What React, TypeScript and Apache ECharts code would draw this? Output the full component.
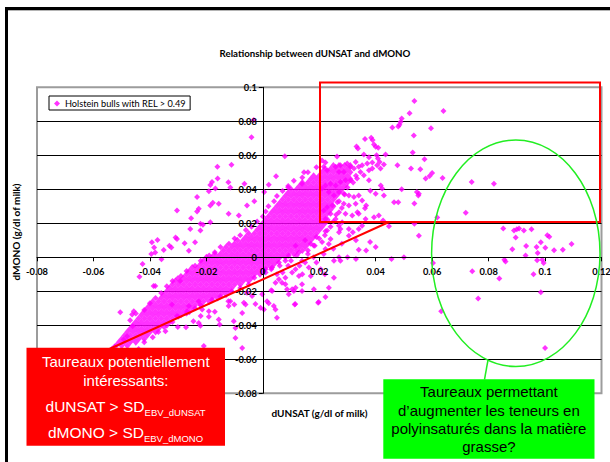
import { useEffect, useRef } from "react";
import * as echarts from "echarts";

// ---- data (values in thousandths of g/dl) ----
const SERIES_NAME = "Holstein bulls with REL > 0.49";
const TITLE = "Relationship between dUNSAT and dMONO";
const X_NAME = "dUNSAT (g/dl of milk)";
const Y_NAME = "dMONO (g/dl of milk)";
const X_MIN = -0.08;
const X_MAX = 0.12;
const Y_MIN = -0.08;
const Y_MAX = 0.1;
const TICK_STEP = 0.02;

// dense core of the cloud, read row by row: [dMONO, dUNSAT values]
const coreRows: [number, number[]][] = [
  [-52, [-52, -50, -48]],
  [-50, [-51, -49, -47, -45]],
  [-48, [-50, -48, -46, -44, -42]],
  [-46, [-49, -47, -45, -43, -41]],
  [-44, [-48, -46, -44, -42, -40, -38]],
  [-42, [-47, -45, -43, -41, -39, -37]],
  [-40, [-46, -44, -42, -40, -38, -36, -34]],
  [-38, [-45, -43, -41, -39, -37, -35, -33]],
  [-36, [-44, -42, -40, -38, -36, -34, -32]],
  [-34, [-43, -41, -39, -37, -35, -33, -31, -29]],
  [-32, [-42, -40, -38, -36, -34, -32, -30, -28, -26]],
  [-30, [-41, -39, -37, -35, -33, -31, -29, -27, -25]],
  [-28, [-40, -38, -36, -34, -32, -30, -28, -26, -24, -22]],
  [-26, [-39, -37, -35, -33, -31, -29, -27, -25, -23, -21, -19]],
  [-24, [-36, -34, -32, -30, -28, -26, -24, -22, -20, -18, -16]],
  [-22, [-35, -33, -31, -29, -27, -25, -23, -21, -19, -17, -15, -13]],
  [-20, [-34, -32, -30, -28, -26, -24, -22, -20, -18, -16, -14, -12]],
  [-18, [-33, -31, -29, -27, -25, -23, -21, -19, -17, -15, -13, -11]],
  [-16, [-32, -30, -28, -26, -24, -22, -20, -18, -16, -14, -12, -10, -8]],
  [-14, [-31, -29, -27, -25, -23, -21, -19, -17, -15, -13, -11, -9, -7, -5]],
  [-12, [-28, -26, -24, -22, -20, -18, -16, -14, -12, -10, -8, -6, -4]],
  [-10, [-27, -25, -23, -21, -19, -17, -15, -13, -11, -9, -7, -5, -3, -1]],
  [-8, [-26, -24, -22, -20, -18, -16, -14, -12, -10, -8, -6, -4, -2, 0]],
  [-6, [-25, -23, -21, -19, -17, -15, -13, -11, -9, -7, -5, -3, -1, 1, 3]],
  [-4, [-22, -20, -18, -16, -14, -12, -10, -8, -6, -4, -2, 0, 2, 4]],
  [-2, [-21, -19, -17, -15, -13, -11, -9, -7, -5, -3, -1, 1, 3, 5]],
  [0, [-20, -18, -16, -14, -12, -10, -8, -6, -4, -2, 0, 2, 4, 6, 8]],
  [2, [-17, -15, -13, -11, -9, -7, -5, -3, -1, 1, 3, 5, 7, 9, 11]],
  [4, [-14, -12, -10, -8, -6, -4, -2, 0, 2, 4, 6, 8, 10, 12, 14]],
  [6, [-13, -11, -9, -7, -5, -3, -1, 1, 3, 5, 7, 9, 11, 13, 15]],
  [8, [-10, -8, -6, -4, -2, 0, 2, 4, 6, 8, 10, 12, 14, 16]],
  [10, [-9, -7, -5, -3, -1, 1, 3, 5, 7, 9, 11, 13, 15, 17]],
  [12, [-6, -4, -2, 0, 2, 4, 6, 8, 10, 12, 14, 16, 18]],
  [14, [-5, -3, -1, 1, 3, 5, 7, 9, 11, 13, 15, 17, 19]],
  [16, [-2, 0, 2, 4, 6, 8, 10, 12, 14, 16, 18, 20]],
  [18, [-1, 1, 3, 5, 7, 9, 11, 13, 15, 17, 19, 21]],
  [20, [0, 2, 4, 6, 8, 10, 12, 14, 16, 18, 20, 22]],
  [22, [1, 3, 5, 7, 9, 11, 13, 15, 17, 19, 21, 23]],
  [24, [2, 4, 6, 8, 10, 12, 14, 16, 18, 20, 22]],
  [26, [3, 5, 7, 9, 11, 13, 15, 17, 19, 21, 23]],
  [28, [4, 6, 8, 10, 12, 14, 16, 18, 20, 22, 24]],
  [30, [5, 7, 9, 11, 13, 15, 17, 19, 21, 23, 25]],
  [32, [6, 8, 10, 12, 14, 16, 18, 20, 22, 24]],
  [34, [7, 9, 11, 13, 15, 17, 19, 21, 23, 25]],
  [36, [8, 10, 12, 14, 16, 18, 20, 22, 24, 26]],
  [38, [9, 11, 13, 15, 17, 19, 21, 23, 25, 27]],
  [40, [10, 12, 14, 16, 18, 20, 22, 24, 26, 28]],
  [42, [13, 15, 17, 19, 21, 23, 25, 27, 29]],
  [44, [14, 16, 18, 20, 22, 24, 26, 28, 30]],
  [46, [17, 19, 21, 23, 25, 27, 29, 31]],
  [48, [18, 20, 22, 24, 26, 28, 30]],
  [50, [21, 23, 25, 27, 29, 31]],
  [52, [22, 24, 26, 28, 30]],
  [54, [25, 27, 29, 31]],
];

// ragged edges of the core: [dUNSAT, dMONO]
const coreEdgePoints: [number, number][] = [
  [-47, -37], [-45, -33], [-42, -31], [-40, -27], [-38, -24], [-36, -21], [-34, -17], [-32, -14], [-29, -11],
  [-27, -8], [-24, -5], [-22, -2], [-19, 1], [-17, 3], [-15, 6], [-12, 8], [-10, 11], [-8, 13], [-6, 16],
  [-4, 18], [-2, 21], [0, 24], [1, 27], [2, 30], [4, 33], [5, 36], [7, 39], [9, 42], [11, 45], [14, 47],
  [16, 50], [19, 53], [21, 57],
  [-44, -54], [-42, -50], [-39, -47], [-37, -44], [-35, -41], [-32, -38], [-30, -35], [-27, -33], [-24, -30],
  [-22, -28], [-18, -25], [-15, -23], [-11, -20], [-8, -18], [-5, -16], [-3, -12], [1, -9], [3, -7], [6, -5],
  [10, -2], [12, 1], [16, 4], [18, 7], [20, 11], [22, 13], [24, 18], [25, 21], [26, 25], [28, 29], [27, 33],
  [29, 37], [30, 41], [32, 44], [33, 48],
];

// individually visible bulls: [dUNSAT, dMONO]
const scatterPoints: [number, number][] = [
  [53.7, 91.9], [52, 84.8], [49.2, 81.7], [48.8, 79.6], [48.4, 78], [48, 77], [45.9, 76.3], [59.6, 75.9], [64, 86.1],
  [53.5, 71.7], [36.2, 69.6], [38.4, 70.3], [38.9, 69], [39.4, 66.4], [40, 65], [40.9, 64.4], [33.2, 65.2], [33.7, 64],
  [53.1, 61.7], [43.5, 60.5], [40.3, 60], [40.8, 58.1], [41.4, 56.1], [35.8, 60.5], [37.6, 58.9], [38.8, 55.8],
  [42.9, 54.6], [57.3, 57.7], [47.7, 54.2], [52.5, 52.2], [55.8, 51.8], [60, 49.6], [59.1, 47.8], [57.7, 46.3],
  [63.7, 46.7], [74, 44.3], [81.9, 43.3], [55.3, 37.4], [71.9, 26.2], [61.8, 23.4], [55.3, 12.7], [26.3, 59.3],
  [49.2, 40], [54.6, 38.4], [55.1, 36.4], [41.8, 42.3], [42.3, 40.4], [42.9, 36.4], [46.5, 32.4], [48, 32.4],
  [53.7, 31.7], [40, 37.4], [38.1, 39.2], [36.6, 30.5], [36.2, 28.9], [33.5, 26.5], [42.6, 21.6], [53.7, 19.8],
  [44.7, 18.2], [27, 18.6], [30.5, 16.7], [22.2, 15.3], [31.9, 14.7],
  [22.2, 55.8], [21.6, 53.2], [22.8, 51.2], [25.8, 53.2], [27.5, 54.2], [27, 50.2], [28.7, 50.2], [29.9, 55.2],
  [31.1, 53.2], [32.3, 52.2], [32.9, 56.1], [34, 53.2], [35.2, 54.2], [37, 55.2], [37.6, 51.2], [38.8, 52.2],
  [40.5, 54.2], [41.7, 52.2], [34.6, 50.2], [35.8, 48.2], [37.6, 45.3], [33.4, 46.3], [31.1, 45.3], [29.3, 45.3],
  [27.5, 44.3], [25.8, 42.3], [24, 43.3], [22.2, 42.3], [21, 40.4], [23.4, 38.4], [25.2, 36.4], [27, 38.4],
  [28.7, 37.4], [30.5, 36.4], [32.3, 35.4], [34, 36.4], [35.2, 33.4], [32.9, 31.5], [30.5, 30.5], [28.7, 31.5],
  [26.4, 32.4], [24.6, 30.5], [22.8, 29.5], [21.6, 27.5], [24, 25.6], [27, 26.5], [29.3, 25.6], [31.7, 24.6],
  [34, 25.6], [36.4, 22.6], [39.4, 23.6], [41.1, 24.6], [25.8, 22.6], [22.2, 22.6], [28.1, 20.6], [35.2, 18.6],
  [7.8, 59.5], [4.7, 47.7], [2.1, 42.7], [0.5, 38.4], [14.6, 50], [9, 41], [-3.2, 80.8], [-4, 70.6], [13.9, 43.3],
  [-11.1, 54.4], [-16.1, 53.2], [-16, 46.3], [-18, 44.3], [-18.6, 42.5], [-19.1, 38.8], [-16.8, 40.4], [-12.2, 44.1],
  [-6.5, 43.3], [-23.3, 35.4], [-15.6, 31.5], [-12.1, 25.6], [-8.5, 24.6], [-30.4, 27.5], [-22.7, 28.5], [-23.3, 26.9],
  [-25.4, 23], [-22.1, 19.7], [-21.2, 19.2], [-18.6, 20.6], [-25.7, 16.7], [-22.1, 15.7], [-30.9, 11.7], [-30.4, 10.8],
  [-27.7, 8.2], [-24, 8.8], [-33.1, 6.8], [-32.4, 5.8], [-39.3, 8.8], [-39.5, 1.9], [-38.1, 2.8], [-35.1, 4.3],
  [-35.9, -1.1], [-42.6, -4], [-38.7, -16.9], [-30.1, -12.3], [-29.3, -13.9], [-26.2, 3.8], [-18.6, 30.5],
  [-17.7, 32.1], [-11.5, 41], [-5.6, 30.5], [-3, 33], [-43.7, -11.5], [-37.3, 10.2], [-38.5, 5.8],
  [45.6, -1], [50, 0], [36.6, 4], [34, 4.4], [30, 0], [27, 0], [27.5, -2], [23.4, 7.8], [24, 10.8], [22.8, 15.7],
  [27, 14.7], [27.5, 16.7], [30.5, 12.7], [34, 16.7], [18.4, 6.8], [25.2, -12], [23.4, -17.9], [18.1, -18.8],
  [22.2, -23.4], [19.6, -26.7], [13.9, -15.9], [11, -19.8], [10.4, -18.8], [11.3, -27.7], [8.6, -18.8], [12.8, -11],
  [16.3, -6], [5.7, -12.9], [6.8, -14.9], [3, -19.4], [-0.2, -21.8], [1.5, -25.8], [2.1, -27.1], [3.9, -28.7],
  [4.5, -30.7], [5, -35.6], [0.4, -30.7], [10.4, -9], [11.6, -7], [13.9, -2], [20.5, -7], [22.2, 4.9], [21.6, 1.9],
  [25.2, -2], [11.6, 6.8], [12.8, 2.8], [9.2, 0.9], [8, -2], [5.7, -3], [3.3, -6], [1, -7], [4.5, -14.9], [8, -15.9],
  [11.6, -17.9], [13.9, -19.8], [9.2, -21.8], [3.3, -19.8], [15, 10], [17, 8], [19, 12], [16, 2], [18, 0],
  [19, -3], [15, -3], [13, -5], [9, -5], [7, -9], [5, -10], [8, -12], [14, -10], [17, -11], [21, 9], [25, 5],
  [28, 8], [33, 10], [38, 9], [40, 6], [33, -1], [22, -10],
  [-50.5, -32.3], [-45.7, -31.7], [-46.3, -33.6], [-34.5, -43.5], [-38.1, -16.9], [-32.2, -27.7], [-30.1, -41],
  [-27.2, -41.2], [-22.7, -38.6], [-22.1, -40.2], [-19.1, -35], [-17, -32.1], [-15.6, -36.6], [-15.3, -39.6],
  [-12.1, -28.7], [-11.5, -25.8], [-10.3, -37.6], [-9.7, -41.6], [-7.3, -32.7], [-6.1, -27.7], [-7.3, -53.4],
  [-9.7, -47.5], [-3.8, -22.8], [-5.6, -20.8], [-0.8, -29.7], [-22.7, -25.8], [-21.5, -30.7], [-26.8, -31.7],
  [-26.2, -28.7], [-30.4, -34.6], [-49.3, -48.4], [-48.1, -46.5], [-53.4, -53.8], [-52.5, -52.4], [-46.1, -40.6],
  [-12.2, -25.8], [-10.1, -27.7], [-6.7, -26.8], [-2.6, -27.4], [11.5, -27.4], [19.8, -26.3], [-22, -34.6],
  [-24.6, -37.6], [-19.1, -31.7], [-20.9, -52.2],
  [85.2, 16.9], [89, 15.7], [90, 16.5], [90.8, 16.9], [92.5, 15.7], [95.2, 16.5], [89.6, 11.7], [100.8, 12.9],
  [101.5, 12.1], [98.5, 8.8], [88.4, 4.8], [93.3, 6.6], [97, 6], [100.1, 5.6], [103.2, 4.2], [106.3, 4.4],
  [109.4, 7.8], [97.4, 2.6], [93.1, 1], [85.6, -1.5], [86, -2.5], [97.2, -1.7], [99, -1.5], [99.5, -3.3],
  [60.3, -3.3], [74.2, -8.2], [83.8, -12.5], [95.9, -10], [98.5, -20.6], [76.3, -24.2], [63.2, -31.7], [100, -53.4],
];

const redBoxLines = ["Taureaux potentiellement", "intéressants:"];
const redBoxCriteria: [string, string][] = [
  ["dUNSAT > SD", "EBV_dUNSAT"],
  ["dMONO > SD", "EBV_dMONO"],
];
const greenBoxLines = [
  "Taureaux permettant",
  "d’augmenter les teneurs en",
  "polyinsaturés dans la matière",
  "grasse?",
];

const MAGENTA = "#ff00ff";
const LABEL_FONT = "Lato, 'Open Sans', sans-serif";
const BOX_FONT = "'Liberation Sans', Arial, sans-serif";

// layout (pixels)
const GRID = { left: 37, top: 87.3, right: 8.5, bottom: 68.7 };
const W = 610;
const H = 462;

const fmt = (v: number) => String(parseFloat(v.toFixed(2)));

function txt(x: number, y: number, text: string, o: any = {}) {
  const align = o.align || "center";
  const vAlign = o.vAlign || "middle";
  return {
    type: "text",
    x,
    y,
    rotation: o.rotation || 0,
    z: 120,
    style: {
      text,
      fill: o.color || "#000",
      fontSize: o.size || 8.5,
      fontWeight: o.weight || "normal",
      fontFamily: o.family || LABEL_FONT,
      align,
      verticalAlign: vAlign,
      textAlign: align,
      textVerticalAlign: vAlign,
      rich: o.rich,
    },
  };
}

function buildOption() {
  const coreData: number[][] = [];
  coreRows.forEach(([y, xs]) => xs.forEach((x) => coreData.push([x / 1000, y / 1000])));
  const scatterData = scatterPoints
    .concat(coreEdgePoints)
    .map(([x, y]) => [x / 1000, y / 1000]);

  // pixel position of the zero lines, so the axes sit on them (as in the reference)
  const plotW = W - GRID.left - GRID.right;
  const plotH = H - GRID.top - GRID.bottom;
  const zeroX = GRID.left + ((0 - X_MIN) / (X_MAX - X_MIN)) * plotW;
  const zeroY = GRID.top + ((Y_MAX - 0) / (Y_MAX - Y_MIN)) * plotH;
  const xAxisOffset = -(H - GRID.bottom - zeroY);
  const yAxisOffset = -(zeroX - GRID.left);

  const graphic: any[] = [
    // outer frame
    { type: "rect", z: 120, shape: { x: 5, y: 7, width: 605, height: 3 }, style: { fill: "#000" } },
    { type: "rect", z: 120, shape: { x: 8, y: 10, width: 602, height: 1 }, style: { fill: "#b4b4b4" } },
    { type: "rect", z: 120, shape: { x: 5, y: 7, width: 3, height: 455 }, style: { fill: "#000" } },
    txt(315, 53, TITLE, { weight: "bold", size: 9.7 }),
    txt(319.5, 413, X_NAME, { weight: "bold", size: 10 }),
    txt(16, 232, Y_NAME, { weight: "bold", size: 10, rotation: Math.PI / 2 }),
    // red zone
    {
      type: "rect", z: 110,
      shape: { x: 320, y: 82.5, width: 280, height: 139.5 },
      style: { fill: "none", stroke: "#ff0000", lineWidth: 2 },
    },
    {
      type: "line", z: 110,
      shape: { x1: 389, y1: 222, x2: 105, y2: 351 },
      style: { stroke: "#ff0000", lineWidth: 2 },
    },
    // green zone
    {
      type: "ellipse", z: 110,
      shape: { cx: 515.8, cy: 253.3, rx: 84.2, ry: 113.3 },
      style: { fill: "none", stroke: "#22ee22", lineWidth: 1.5 },
    },
    {
      type: "line", z: 110,
      shape: { x1: 488, y1: 360, x2: 484.5, y2: 379.5 },
      style: { stroke: "#22ee22", lineWidth: 1.5 },
    },
    {
      type: "rect", z: 115,
      shape: { x: 26.5, y: 347.7, width: 198.5, height: 98 },
      style: { fill: "#ff0000" },
    },
    {
      type: "rect", z: 115,
      shape: { x: 383.3, y: 379.3, width: 211.2, height: 79.4 },
      style: { fill: "#00ff00" },
    },
  ];

  const redLineY = [361, 380];
  redBoxLines.forEach((t, i) =>
    graphic.push(txt(125.8, redLineY[i], t, { color: "#fff", size: 15, family: BOX_FONT }))
  );
  const critY = [406.5, 432.8];
  redBoxCriteria.forEach(([main, sub], i) => {
    graphic.push(
      txt(125.5, critY[i], `{m|${main}}{s|${sub}}`, {
        color: "#fff",
        size: 15.5,
        family: BOX_FONT,
        rich: {
          m: { fontSize: 15.5, fontFamily: BOX_FONT, fill: "#fff", lineHeight: 22, verticalAlign: "middle" },
          s: { fontSize: 9.5, fontFamily: BOX_FONT, fill: "#fff", lineHeight: 22, verticalAlign: "bottom", textVerticalAlign: "bottom" },
        },
      })
    );
  });
  const greenY = [391.7, 410, 428.3, 446.7];
  greenBoxLines.forEach((t, i) =>
    graphic.push(txt(488.9, greenY[i], t, { color: "#000", size: 15, family: BOX_FONT }))
  );

  const axisLabel = {
    formatter: fmt,
    fontSize: 9.3,
    fontWeight: "bold",
    fontFamily: LABEL_FONT,
    color: "#000",
    showMinLabel: true,
    showMaxLabel: true,
  };

  return {
    animation: false,
    backgroundColor: "#ffffff",
    grid: {
      ...GRID,
      show: true,
      borderColor: "#9c9c9c",
      borderWidth: 2,
      backgroundColor: "transparent",
      containLabel: false,
      outerBoundsMode: "none",
    },
    legend: {
      left: 49,
      top: 96,
      orient: "horizontal",
      padding: [3, 4, 2, 5],
      itemWidth: 6,
      itemHeight: 6,
      borderColor: "#000",
      borderWidth: 1,
      borderRadius: 0,
      backgroundColor: "#fff",
      textStyle: { fontSize: 9.2, fontFamily: LABEL_FONT, color: "#000" },
      data: [{ name: SERIES_NAME, icon: "diamond" }],
    },
    xAxis: [
      {
        type: "value",
        min: X_MIN,
        max: X_MAX,
        interval: TICK_STEP,
        position: "bottom",
        offset: xAxisOffset,
        z: 5,
        axisLine: { show: true, onZero: false, lineStyle: { color: "#000", width: 1 } },
        axisTick: { show: true, length: 4, lineStyle: { color: "#000" } },
        axisLabel: { ...axisLabel, margin: 10 },
        splitLine: { show: false },
      },
    ],
    yAxis: [
      {
        type: "value",
        min: Y_MIN,
        max: Y_MAX,
        interval: TICK_STEP,
        position: "left",
        offset: yAxisOffset,
        z: 5,
        axisLine: { show: true, onZero: false, lineStyle: { color: "#000", width: 1 } },
        axisTick: { show: true, length: 4, lineStyle: { color: "#000" } },
        axisLabel: { ...axisLabel, margin: 6 },
        splitLine: { show: false },
      },
      {
        type: "value",
        min: Y_MIN,
        max: Y_MAX,
        interval: TICK_STEP,
        position: "right",
        z: 0,
        axisLine: { show: false, onZero: false },
        axisTick: { show: false },
        axisLabel: { show: false },
        splitLine: {
          show: true,
          showMinLine: false,
          showMaxLine: false,
          lineStyle: { color: "#000", width: 1 },
        },
      },
    ],
    series: [
      {
        name: SERIES_NAME,
        type: "scatter",
        symbol: "diamond",
        symbolSize: [6, 7],
        itemStyle: { color: MAGENTA },
        data: coreData,
        z: 1,
      },
      {
        name: SERIES_NAME,
        type: "scatter",
        symbol: "diamond",
        symbolSize: 6,
        itemStyle: { color: MAGENTA },
        data: scatterData,
        z: 1,
      },
    ],
    graphic,
  };
}

export default function App() {
  const ref = useRef<HTMLDivElement>(null);
  useEffect(() => {
    document.body.style.margin = "0";
    const chart = echarts.init(ref.current as HTMLDivElement, null, {
      renderer: "svg",
      width: W,
      height: H,
    });
    chart.setOption(buildOption() as any);
    return () => chart.dispose();
  }, []);
  return (
    <div
      ref={ref}
      style={{ position: "absolute", left: 0, top: 0, width: W, height: H, background: "#fff" }}
    />
  );
}
